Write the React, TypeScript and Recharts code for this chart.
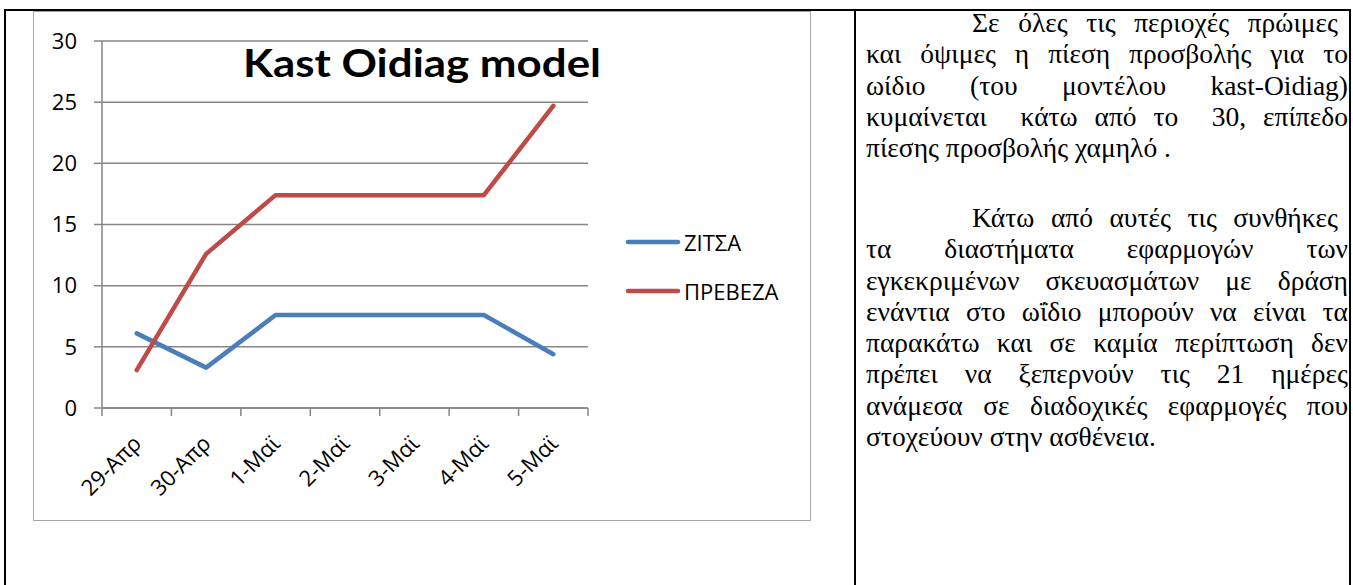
import React from "react";
import {
  LineChart,
  Line,
  XAxis,
  YAxis,
  CartesianGrid,
  Legend,
} from "recharts";

// values
const dates = ["29-Απρ", "30-Απρ", "1-Μαϊ", "2-Μαϊ", "3-Μαϊ", "4-Μαϊ", "5-Μαϊ"];
const zitsa = [6.1, 3.3, 7.6, 7.6, 7.6, 7.6, 4.4];
const preveza = [3.1, 12.6, 17.4, 17.4, 17.4, 17.4, 24.7];
const yTicks = [0, 5, 10, 15, 20, 25, 30];
const title = "Kast Oidiag model";

// right-hand cell, one array per paragraph, one entry per printed line
const para1 = [
  "Σε όλες τις περιοχές πρώιμες",
  "και όψιμες η πίεση προσβολής για το",
  "ωίδιο (του μοντέλου kast-Oidiag)",
  "κυμαίνεται  κάτω από το  30, επίπεδο",
  "πίεσης προσβολής χαμηλό .",
];
const para2 = [
  "Κάτω από αυτές τις συνθήκες",
  "τα διαστήματα εφαρμογών των",
  "εγκεκριμένων σκευασμάτων με δράση",
  "ενάντια στο ωΐδιο μπορούν να είναι τα",
  "παρακάτω και σε καμία περίπτωση δεν",
  "πρέπει να ξεπερνούν τις 21 ημέρες",
  "ανάμεσα σε διαδοχικές εφαρμογές που",
  "στοχεύουν στην ασθένεια.",
];

const data = dates.map((d, i) => ({ d, zitsa: zitsa[i], preveza: preveza[i] }));

const FONT = "'Open Sans', 'Noto Sans', sans-serif";
const GRID = "#868686";
const LINE_H = 31.3;

function XTick(props: any) {
  const { x, y, payload, index, visibleTicksCount, width } = props;
  const half = payload.offset || width / visibleTicksCount / 2;
  return (
    <g>
      <line x1={x - half} x2={x - half} y1={y} y2={y + 8} stroke={GRID} strokeWidth={1.5} />
      {index === visibleTicksCount - 1 && (
        <line x1={x + half} x2={x + half} y1={y} y2={y + 8} stroke={GRID} strokeWidth={1.5} />
      )}
      <text
        x={x + 6}
        y={y + 37}
        textAnchor="end"
        transform={`rotate(-45, ${x + 6}, ${y + 37})`}
        fontFamily={FONT}
        fontSize={22}
        fill="#000"
      >
        {payload.value}
      </text>
    </g>
  );
}

function LegendBox(props: any) {
  const { payload } = props;
  return (
    <div style={{ fontFamily: FONT, fontSize: 22, color: "#000" }}>
      {(payload || []).map((p: any) => (
        <div key={p.value} style={{ display: "flex", alignItems: "center", height: 49 }}>
          <svg width={56} height={8}>
            <line x1={3} x2={53} y1={4} y2={4} stroke={p.color} strokeWidth={4.5} strokeLinecap="round" />
          </svg>
          <span style={{ marginLeft: 3, lineHeight: "22px" }}>{p.value}</span>
        </div>
      ))}
    </div>
  );
}

function Paragraph({ lines, top }: { lines: string[]; top: number }) {
  return (
    <div style={{ position: "absolute", left: 0, top, width: "100%" }}>
      {lines.map((t, i) => {
        const first = i === 0;
        const last = i === lines.length - 1;
        return (
          <div
            key={i}
            style={{
              height: LINE_H,
              whiteSpace: "pre",
              textAlign: last ? "left" : "justify",
              textAlignLast: last ? "left" : "justify",
              paddingLeft: first ? 106 : 0,
              paddingRight: first ? 10 : 0,
            }}
          >
            {t}
          </div>
        );
      })}
    </div>
  );
}

export default function App() {
  return (
    <div style={{ position: "absolute", left: 0, top: 0, width: 1353, height: 585, overflow: "hidden", background: "#fff" }}>
      {/* table frame */}
      <div style={{ position: "absolute", left: 4, top: 9, width: 1347, height: 700, border: "2px solid #000", boxSizing: "border-box" }} />
      <div style={{ position: "absolute", left: 854, top: 9, width: 2, height: 700, background: "#000" }} />

      {/* chart frame */}
      <div style={{ position: "absolute", left: 33, top: 11, width: 778, height: 510, border: "1.5px solid #a6a6a6", boxSizing: "border-box" }} />
      <div style={{ position: "absolute", left: 33, top: 11 }}>
        <LineChart width={778} height={510} data={data} margin={{ top: 30, right: 223, bottom: 0, left: 0 }}>
          <CartesianGrid vertical={false} stroke={GRID} strokeWidth={1.5} />
          <XAxis
            dataKey="d"
            scale="band"
            height={113}
            interval={0}
            tickSize={0}
            tickMargin={0}
            tickLine={false}
            axisLine={{ stroke: GRID, strokeWidth: 1.5 }}
            tick={<XTick />}
          />
          <YAxis
            width={69}
            domain={[0, 30]}
            ticks={yTicks}
            interval={0}
            tickSize={8}
            tickMargin={17}
            axisLine={{ stroke: GRID, strokeWidth: 1.5 }}
            tickLine={{ stroke: GRID, strokeWidth: 1.5 }}
            tick={{ fontFamily: FONT, fontSize: 22, fill: "#000" }}
          />
          <Legend
            layout="vertical"
            align="center"
            verticalAlign="middle"
            wrapperStyle={{ left: 592, top: 206, width: 180 }}
            content={<LegendBox />}
          />
          <Line
            dataKey="zitsa"
            name="ΖΙΤΣΑ"
            stroke="#4a7ebb"
            strokeWidth={4.5}
            strokeLinecap="round"
            strokeLinejoin="round"
            dot={false}
            activeDot={false}
            isAnimationActive={false}
          />
          <Line
            dataKey="preveza"
            name="ΠΡΕΒΕΖΑ"
            stroke="#be4b48"
            strokeWidth={4.5}
            strokeLinecap="round"
            strokeLinejoin="round"
            dot={false}
            activeDot={false}
            isAnimationActive={false}
          />
        </LineChart>
      </div>

      {/* chart title */}
      <svg style={{ position: "absolute", left: 0, top: 0 }} width={860} height={120}>
        <text
          x={243}
          y={77}
          textLength={358}
          lengthAdjust="spacingAndGlyphs"
          fontFamily="Lato, 'Open Sans', sans-serif"
          fontWeight={700}
          fontSize={39}
          fill="#000"
        >
          {title}
        </text>
      </svg>

      {/* text cell */}
      <div
        style={{
          position: "absolute",
          left: 866,
          top: 0,
          width: 482,
          height: 585,
          fontFamily: "'Liberation Serif', 'Times New Roman', serif",
          fontSize: 27.5,
          lineHeight: `${LINE_H}px`,
          color: "#000",
        }}
      >
        <Paragraph lines={para1} top={7} />
        <Paragraph lines={para2} top={202} />
      </div>
    </div>
  );
}
